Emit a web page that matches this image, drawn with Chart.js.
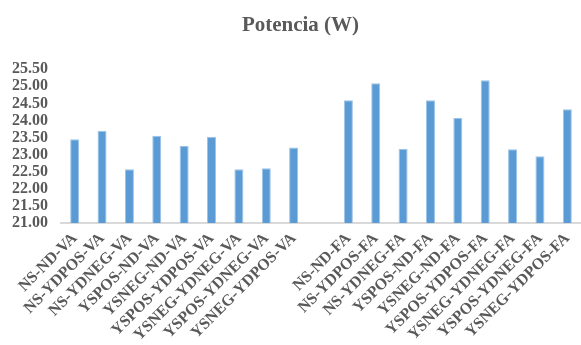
<!DOCTYPE html>
<html>
<head>
<meta charset="utf-8">
<script src="https://cdn.jsdelivr.net/npm/chart.js@4/dist/chart.umd.min.js"></script>
<style>
  html, body { margin: 0; padding: 0; background: #ffffff; }
  #wrap { width: 581px; height: 345px; }
</style>
</head>
<body>
<div id="wrap"><canvas id="c" width="581" height="345"></canvas></div>
<script>
// Test configurations, volante (VA) group then FA group
const vaLabels = ['NS-ND-VA', 'NS-YDPOS-VA', 'NS-YDNEG-VA', 'YSPOS-ND-VA', 'YSNEG-ND-VA',
                  'YSPOS-YDPOS-VA', 'YSNEG-YDNEG-VA', 'YSPOS-YDNEG-VA', 'YSNEG-YDPOS-VA'];
const faLabels = ['NS-ND-FA', 'NS-YDPOS-FA', 'NS-YDNEG-FA', 'YSPOS-ND-FA', 'YSNEG-ND-FA',
                  'YSPOS-YDPOS-FA', 'YSNEG-YDNEG-FA', 'YSPOS-YDNEG-FA', 'YSNEG-YDPOS-FA'];

// Power in watts
const vaPower = [23.45, 23.70, 22.57, 23.55, 23.25, 23.52, 22.57, 22.60, 23.21];
const faPower = [24.59, 25.09, 23.17, 24.59, 24.07, 25.18, 23.16, 22.95, 24.33];

// Y axis range
const yMin = 21.0;
const yMax = 25.5;
const yStep = 0.5;

// An empty slot separates the two groups
const labels = [...vaLabels, '', ...faLabels];
const values = [...vaPower, null, ...faPower];

const grey = '#595959';
const serif = "'Liberation Serif', 'Times New Roman', serif";

// Nudge the title block so the heading sits a little right of the canvas centre
const titleShift = {
  id: 'titleShift',
  afterLayout(chart) {
    if (chart.titleBlock) chart.titleBlock.left += 20;
  }
};

new Chart(document.getElementById('c'), {
  type: 'bar',
  data: {
    labels: labels,
    datasets: [{
      label: 'Potencia (W)',
      data: values,
      backgroundColor: '#5B9BD5',
      borderColor: '#9DC3E6',
      borderWidth: 1,
      barPercentage: 0.66,
      categoryPercentage: 0.5
    }]
  },
  plugins: [titleShift],
  options: {
    responsive: false,
    animation: false,
    devicePixelRatio: 1,
    layout: { padding: { left: 0, right: 0, top: 0, bottom: 0 } },
    plugins: {
      legend: { display: false },
      tooltip: { enabled: false },
      title: {
        display: true,
        text: 'Potencia (W)',
        color: grey,
        font: { family: serif, size: 21, weight: 'bold' },
        padding: { top: 13, bottom: 31 }
      }
    },
    scales: {
      x: {
        grid: { display: false, drawTicks: false },
        border: { display: true, color: '#D9D9D9', width: 2 },
        afterFit: (scale) => {
          scale.height = 122;
          scale.paddingRight = 0;
        },
        ticks: {
          color: grey,
          font: { family: serif, size: 16, weight: 'bold' },
          minRotation: 45,
          maxRotation: 45,
          autoSkip: false,
          padding: 6
        }
      },
      y: {
        min: yMin,
        max: yMax,
        grid: { display: false, drawTicks: false },
        border: { display: false },
        afterFit: (scale) => { scale.width = 61; },
        ticks: {
          stepSize: yStep,
          autoSkip: false,
          color: grey,
          font: { family: serif, size: 16, weight: 'bold' },
          padding: 13,
          callback: (v) => Number(v).toFixed(2)
        }
      }
    }
  }
});
</script>
</body>
</html>
